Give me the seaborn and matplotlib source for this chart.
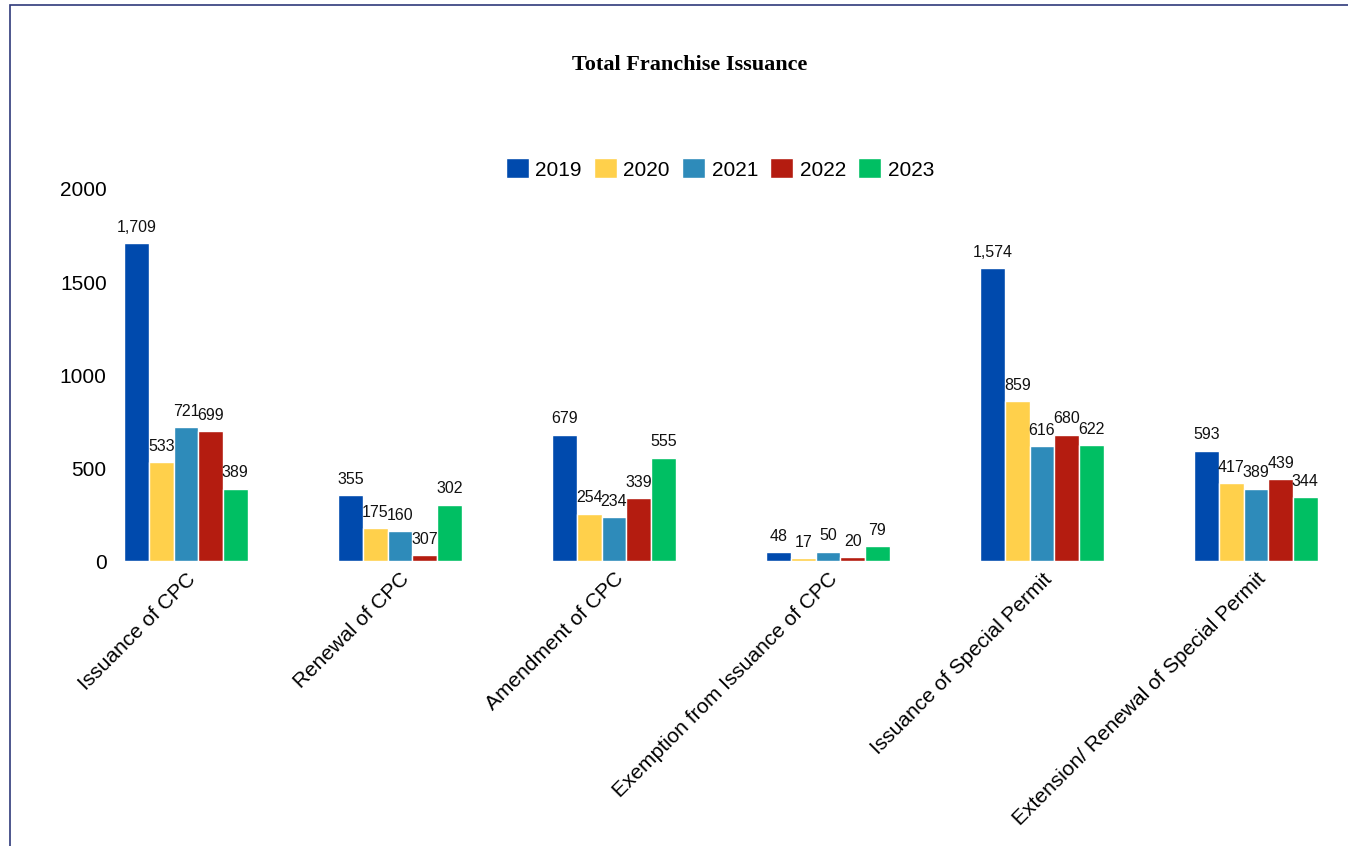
import pandas as pd
import matplotlib.pyplot as plt
import seaborn as sns
from matplotlib.patches import Rectangle

# dati
categories = ["Issuance of CPC", "Renewal of CPC", "Amendment of CPC",
              "Exemption from Issuance of CPC", "Issuance of Special Permit",
              "Extension/ Renewal of Special Permit"]
years = ["2019", "2020", "2021", "2022", "2023"]
v2019 = [1709, 355, 679, 48, 1574, 593]
v2020 = [533, 175, 254, 17, 859, 417]
v2021 = [721, 160, 234, 50, 616, 389]
v2022 = [699, 30, 339, 20, 680, 439]
v2023 = [389, 302, 555, 79, 622, 344]
# etichette come stampate sul grafico (307 sulla barra bassa)
lab2019 = ["1,709", "355", "679", "48", "1,574", "593"]
lab2020 = ["533", "175", "254", "17", "859", "417"]
lab2021 = ["721", "160", "234", "50", "616", "389"]
lab2022 = ["699", "307", "339", "20", "680", "439"]
lab2023 = ["389", "302", "555", "79", "622", "344"]
colors = ["#004AAD", "#FFD04B", "#2E8BBA", "#B41C10", "#00BF63"]

values = [v2019, v2020, v2021, v2022, v2023]
labels = [lab2019, lab2020, lab2021, lab2022, lab2023]
rows = []
for y, vals in zip(years, values):
    for c, v in zip(categories, vals):
        rows.append({"Category": c, "Year": y, "Value": v})
df = pd.DataFrame(rows)

sns.set_style("white")
plt.rcParams['font.family'] = ['Liberation Sans', 'DejaVu Sans']
plt.rcParams['text.color'] = 'black'
plt.rcParams['xtick.color'] = 'black'
plt.rcParams['ytick.color'] = 'black'

fig = plt.figure(figsize=(13.48, 8.46), dpi=100)
left = 115
ax = fig.add_axes([left / 1348, 1 - 561 / 846, (1348 - left) / 1348, (561 - 189) / 846])

sns.barplot(data=df, x="Category", y="Value", hue="Year", palette=colors, saturation=1,
            width=0.575, edgecolor="white", linewidth=1, ax=ax)

for cont, labs in zip(ax.containers, labels):
    ax.bar_label(cont, labels=labs, padding=6, fontsize=11.5, color="#111111")

ax.set_ylim(0, 2000)
ax.set_xlim((left - 186) / 214, (1348 - 186) / 214)
ax.set_yticks([0, 500, 1000, 1500, 2000])
ax.tick_params(axis="y", labelsize=15, pad=6, length=0)
ax.tick_params(axis="x", length=0, pad=6)
ax.set_xticks(range(len(categories)))
ax.set_xticklabels(categories, rotation=45, ha="right", rotation_mode="anchor", fontsize=15)
ax.set_xlabel("")
ax.set_ylabel("")
sns.despine(ax=ax, left=True, bottom=True)

leg = ax.legend(loc="center", bbox_to_anchor=(((720 - left) / (1348 - left)), (561 - 169) / 372), ncol=5,
                frameon=False, fontsize=15, handlelength=1.1, handleheight=1.1,
                columnspacing=0.6, handletextpad=0.3)

fig.text(690 / 1348, 1 - 65 / 846, "Total Franchise Issuance", ha="center", va="center",
         fontsize=16, fontweight="bold", family="Liberation Serif")

# cornice blu
fig.patches.append(Rectangle((10 / 1348, -0.01), 1.2, 1 - 5 / 846 + 0.01, transform=fig.transFigure,
                             fill=False, edgecolor="#2F3A7A", linewidth=1.2))

fig.savefig("out.png", dpi=100)
